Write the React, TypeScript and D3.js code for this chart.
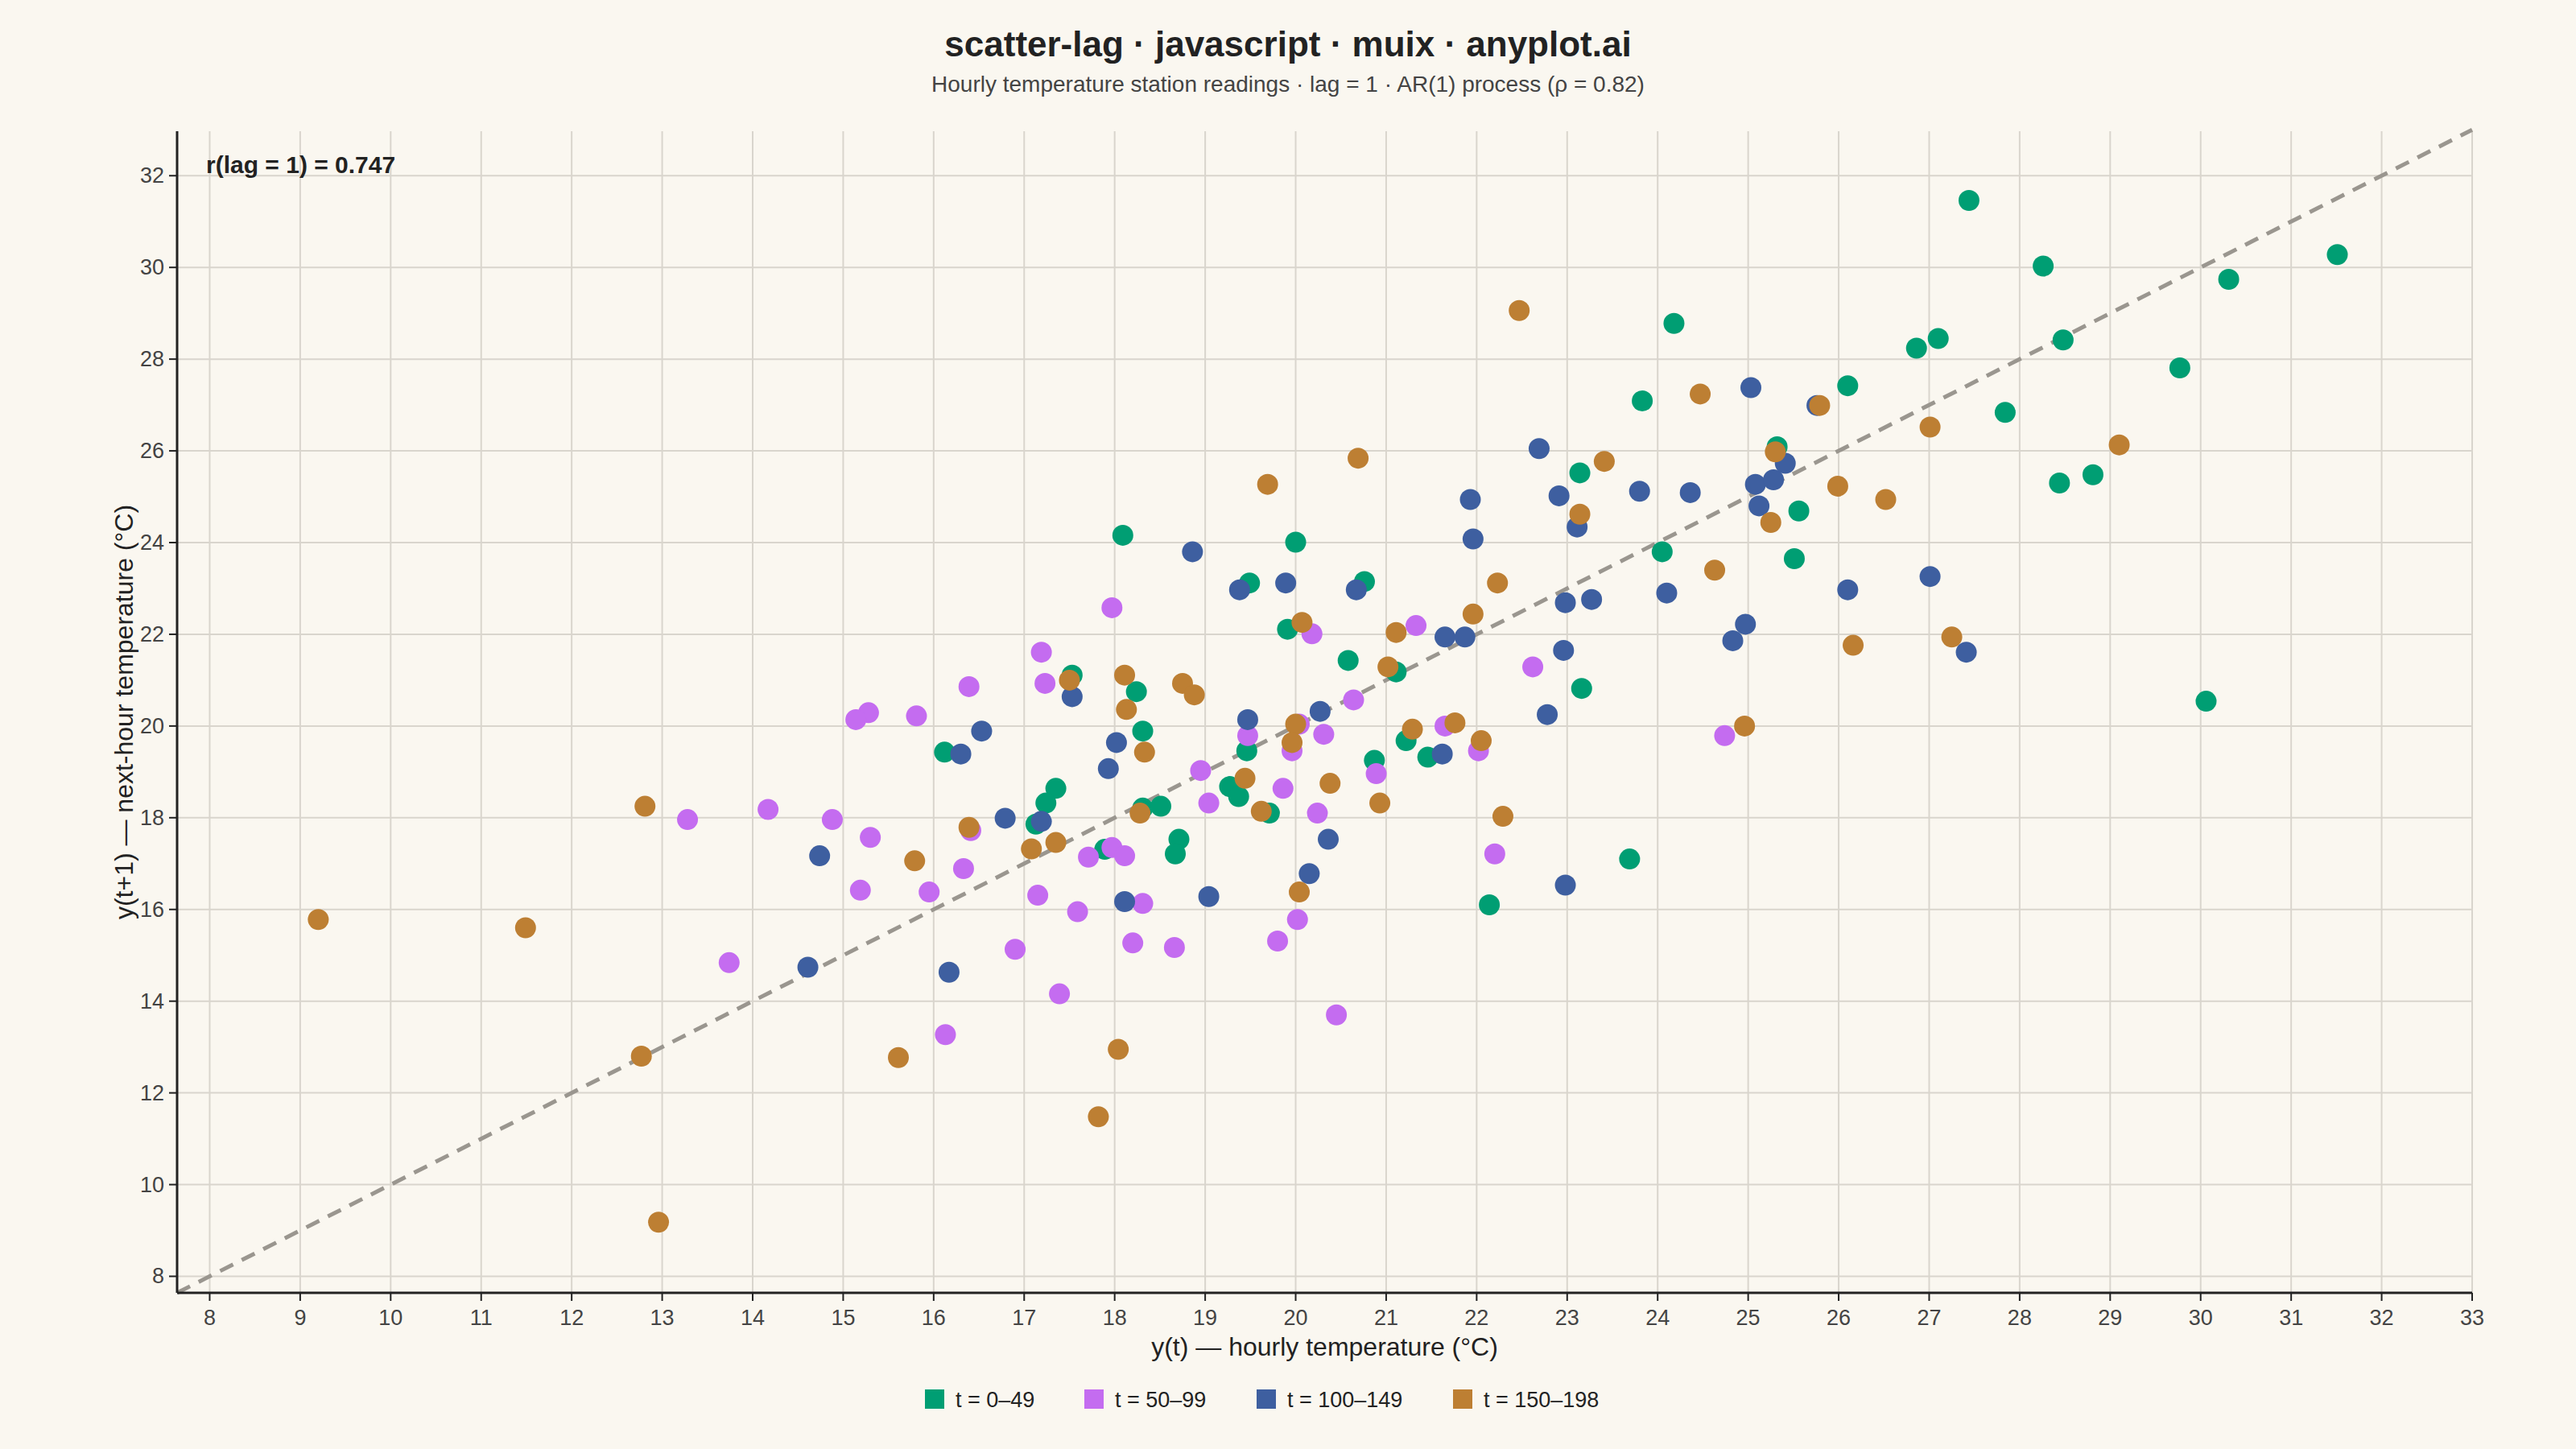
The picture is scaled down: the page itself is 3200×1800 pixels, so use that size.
import * as d3 from 'd3'

// [y(t), y(t+1)] pairs, grouped by time block
const group0: [number, number][] = [
  [27.44, 31.46], [28.26, 30.03], [31.51, 30.28], [30.31, 29.74], [24.18, 28.78], [27.1, 28.45],
  [26.86, 28.24], [28.48, 28.42], [29.77, 27.81], [23.83, 27.09], [26.1, 27.42], [27.84, 26.84],
  [25.32, 26.09], [23.14, 25.52], [28.44, 25.3], [28.81, 25.48], [25.56, 24.69], [25.51, 23.65],
  [24.05, 23.8], [18.09, 24.16], [20.0, 24.01], [19.49, 23.12], [20.76, 23.15], [19.91, 22.11],
  [20.58, 21.43], [21.11, 21.18], [17.53, 21.11], [18.24, 20.75], [23.16, 20.82], [30.06, 20.54],
  [18.31, 19.89], [16.12, 19.43], [19.46, 19.46], [21.22, 19.68], [21.46, 19.32], [20.87, 19.25],
  [17.35, 18.64], [17.24, 18.32], [18.31, 18.21], [18.51, 18.25], [19.27, 18.68], [19.37, 18.46],
  [19.71, 18.1], [17.13, 17.86], [17.89, 17.31], [18.71, 17.53], [18.67, 17.21], [23.69, 17.1],
  [22.14, 16.1],
]
const group1: [number, number][] = [
  [17.97, 22.58], [17.19, 21.61], [17.23, 20.93], [16.39, 20.86], [15.28, 20.29], [15.14, 20.14],
  [15.81, 20.22], [20.18, 22.01], [21.33, 22.19], [22.62, 21.29], [20.64, 20.57], [20.04, 20.04],
  [20.31, 19.82], [21.65, 20.0], [22.02, 19.46], [19.96, 19.46], [19.47, 19.79], [18.95, 19.03],
  [19.04, 18.32], [19.86, 18.64], [20.89, 18.96], [20.24, 18.1], [24.74, 19.79], [16.41, 17.72],
  [15.3, 17.57], [14.88, 17.96], [14.17, 18.18], [13.28, 17.96], [16.33, 16.89], [15.19, 16.42],
  [15.95, 16.38], [17.15, 16.31], [17.71, 17.14], [17.97, 17.35], [18.11, 17.17], [18.31, 16.13],
  [17.59, 15.95], [16.9, 15.13], [18.2, 15.27], [18.66, 15.17], [19.8, 15.31], [20.02, 15.78],
  [22.2, 17.21], [13.74, 14.84], [17.39, 14.16], [16.13, 13.27], [20.45, 13.7],
]
const group2: [number, number][] = [
  [25.03, 27.38], [25.76, 26.99], [22.69, 26.05], [22.91, 25.02], [23.8, 25.12], [24.36, 25.09],
  [25.08, 25.27], [25.28, 25.37], [25.41, 25.73], [25.12, 24.8], [21.93, 24.94], [21.96, 24.08],
  [23.11, 24.34], [18.86, 23.8], [19.38, 22.97], [19.89, 23.12], [20.67, 22.97], [21.65, 21.94],
  [21.87, 21.94], [22.98, 22.69], [23.27, 22.76], [24.1, 22.9], [24.97, 22.22], [24.83, 21.86],
  [26.1, 22.97], [27.01, 23.26], [27.41, 21.61], [22.96, 21.65], [22.78, 20.25], [17.53, 20.64],
  [16.53, 19.89], [16.3, 19.39], [18.02, 19.64], [19.47, 20.14], [20.27, 20.32], [21.62, 19.39],
  [17.93, 19.07], [16.79, 17.99], [17.19, 17.92], [14.74, 17.17], [20.36, 17.53], [20.15, 16.78],
  [19.04, 16.28], [18.11, 16.17], [14.61, 14.74], [16.17, 14.63], [22.98, 16.53],
]
const group3: [number, number][] = [
  [22.47, 29.06], [24.47, 27.24], [25.79, 26.99], [25.3, 25.98], [27.01, 26.52], [23.41, 25.77],
  [20.69, 25.84], [19.69, 25.27], [23.14, 24.62], [25.25, 24.44], [25.99, 25.23], [26.52, 24.94],
  [29.1, 26.13], [24.63, 23.4], [22.23, 23.12], [21.96, 22.44], [20.07, 22.26], [21.11, 22.04],
  [26.16, 21.76], [27.25, 21.94], [21.02, 21.29], [18.11, 21.11], [17.5, 21.0], [18.75, 20.93],
  [18.88, 20.68], [18.13, 20.36], [20.0, 20.04], [21.29, 19.93], [21.76, 20.07], [22.05, 19.68],
  [19.96, 19.64], [18.33, 19.43], [24.96, 20.0], [19.44, 18.86], [20.38, 18.75], [20.93, 18.32],
  [18.28, 18.1], [19.62, 18.14], [22.29, 18.03], [16.39, 17.79], [17.35, 17.46], [17.08, 17.32],
  [15.79, 17.06], [20.04, 16.38], [12.81, 18.25], [9.2, 15.78], [11.49, 15.6], [12.77, 12.8],
  [15.61, 12.77], [18.04, 12.95], [17.82, 11.48], [12.96, 9.18],
]

const groupLabels = ['t = 0–49', 't = 50–99', 't = 100–149', 't = 150–198']
const groupColors = ['#009e73', '#c46cf0', '#3e5fa0', '#bd7f33']
const groups = [group0, group1, group2, group3]
const xTicks = d3.range(8, 34)
const yTicks = d3.range(8, 33, 2)

const W = 3200
const H = 1800
const m = { left: 220, right: 129, top: 163, bottom: 194 }
const font = '"Liberation Sans", Arial, sans-serif'

export default function App() {
  const x = d3.scaleLinear().domain([7.64, 33]).range([m.left, W - m.right])
  const y = d3.scaleLinear().domain([7.64, 32.97]).range([H - m.bottom, m.top])
  const [x0, x1] = x.range()
  const [y0, y1] = y.range()

  return (
    <svg width={W} height={H} style={{ display: 'block', background: '#faf7f0', fontFamily: font, position: 'absolute', left: 0, top: 0 }}>
      <text x={W / 2} y={70} textAnchor="middle" fontSize={44} fontWeight="bold" fill="#222">
        scatter-lag · javascript · muix · anyplot.ai
      </text>
      <text x={W / 2} y={114} textAnchor="middle" fontSize={28} fill="#444">
        Hourly temperature station readings · lag = 1 · AR(1) process (ρ = 0.82)
      </text>

      {xTicks.map((t) => (
        <g key={'x' + t}>
          <line x1={x(t)} x2={x(t)} y1={y1} y2={y0} stroke="#d9d5cd" strokeWidth={2} />
          <line x1={x(t)} x2={x(t)} y1={y0} y2={y0 + 10} stroke="#222" strokeWidth={2} />
          <text x={x(t)} y={y0 + 40} textAnchor="middle" fontSize={27} fill="#444">{t}</text>
        </g>
      ))}
      {yTicks.map((t) => (
        <g key={'y' + t}>
          <line x1={x0} x2={x1} y1={y(t)} y2={y(t)} stroke="#d9d5cd" strokeWidth={2} />
          <line x1={x0 - 10} x2={x0} y1={y(t)} y2={y(t)} stroke="#222" strokeWidth={2} />
          <text x={x0 - 16} y={y(t) + 9} textAnchor="end" fontSize={27} fill="#444">{t}</text>
        </g>
      ))}

      <line x1={x(7.64)} y1={y(7.64)} x2={x(33)} y2={y(33)} stroke="#9a968f" strokeWidth={5} strokeDasharray="18 12" />

      {groups.map((g, gi) =>
        g.map((d, i) => (
          <circle key={gi + '-' + i} cx={x(d[0])} cy={y(d[1])} r={13} fill={groupColors[gi]} />
        ))
      )}

      <line x1={x0} x2={x0} y1={y1} y2={y0} stroke="#222" strokeWidth={3} />
      <line x1={x0} x2={x1} y1={y0} y2={y0} stroke="#222" strokeWidth={3} />

      <text x={256} y={215} fontSize={30} fontWeight="bold" fill="#222">r(lag = 1) = 0.747</text>

      <text x={(x0 + x1) / 2} y={1684} textAnchor="middle" fontSize={32} fill="#222">
        y(t) — hourly temperature (°C)
      </text>
      <text transform={`translate(165, ${(y0 + y1) / 2}) rotate(-90)`} textAnchor="middle" fontSize={32} fill="#222">
        y(t+1) — next-hour temperature (°C)
      </text>

      {groupLabels.map((lab, i) => {
        const lx = [1149, 1347, 1561, 1805][i]
        return (
          <g key={lab} transform={`translate(${lx}, 1738)`}>
            <rect x={0} y={-12} width={24} height={24} fill={groupColors[i]} />
            <text x={38} y={10} fontSize={27} fill="#222">{lab}</text>
          </g>
        )
      })}
    </svg>
  )
}
